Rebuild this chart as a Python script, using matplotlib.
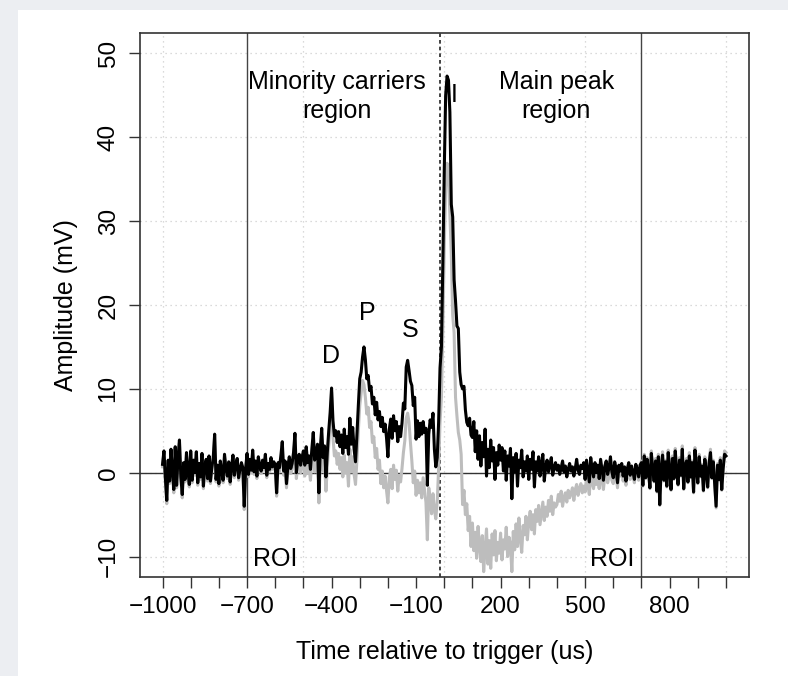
import numpy as np
import matplotlib
matplotlib.use("Agg")
import matplotlib.pyplot as plt
from matplotlib.patches import Rectangle

plt.rcParams["font.family"] = ["Liberation Sans", "DejaVu Sans"]

# Sampling grid of the averaged traces (us)
t_start, t_stop, t_step = -1000, 1000, 5
time_us = np.arange(t_start, t_stop + t_step, t_step)

# Raw averaged response (mV), one row per 100 us
raw_mv = [
    1.0, 2.6, -0.6, -3.3, 1.5, -1.0, 2.8, 0.2, -2.0, 3.1, -1.5, 1.8, 3.9, -0.5, -2.6, 1.2, -0.8, 2.4, 0.3, -1.4,     # -1000
    2.6, -0.9, 1.5, 0.0, 2.5, -1.2, 1.1, -0.5, 2.3, -1.6, 0.8, 1.6, -0.7, 2.0, -1.0, 0.6, 1.8, 4.6, -0.8, 0.9,      # -900
    -1.3, 1.4, 0.2, -0.9, 2.2, 0.5, -0.4, 1.3, -1.1, 0.7, 2.1, -0.3, 0.9, 1.7, -0.6, 0.4, 1.2, 0.6, -4.0, 0.5,      # -800
    2.3, -0.2, 1.6, 0.3, 2.7, 0.1, 1.4, -0.4, 1.9, 0.8, 0.2, 1.5, 0.6, 2.2, -0.3, 1.1, 0.4, 1.8, 0.7, 1.3,         # -700
    0.9, -2.4, 1.2, 0.6, 2.0, 3.7, 0.2, 1.4, -1.3, 0.8, 1.9, 0.5, 1.1, 2.4, 4.7, 0.0, 1.6, 2.2, 0.9, 1.8,          # -600
    2.6, 0.9, 3.1, 1.2, 2.0, 0.4, 2.8, 4.8, 1.5, 2.3, 3.4, -2.4, 2.9, 5.3, 1.8, 3.2, -0.5, 2.5, 5.0, 7.2,          # -500
    10.1, 6.2, 4.4, 5.0, 3.6, 4.9, 3.1, 4.5, 2.3, 5.2, 3.0, 4.3, 2.2, 6.5, 3.4, 5.4, 2.8, 1.3, 4.5, 8.0,          # -400
    11.2, 12.0, 13.8, 15.0, 13.5, 11.2, 11.6, 9.8, 10.3, 8.2, 9.0, 6.9, 8.4, 6.3, 7.3, 5.5, 6.6, 4.9, 5.8, 4.2,   # -300
    1.9, 5.2, 6.4, 4.1, 6.8, 5.0, 6.1, 3.7, 5.5, 4.3, 5.9, 8.3, 7.6, 12.6, 13.4, 12.2, 10.9, 10.4, 8.0, 9.0,      # -200
    4.0, 6.2, 4.3, 5.9, 4.6, 6.1, 4.8, 5.3, -1.5, 4.6, 6.3, 5.4, 7.1, 2.8, 0.7, 1.8, 6.0, 12.5, 15.0, 25.0,       # -100
    36.0, 45.0, 47.3, 46.8, 43.0, 32.0, 30.5, 23.0, 20.5, 17.5, 17.2, 12.0, 10.5, 10.0, 10.3, 7.5, 6.0, 5.6, 6.5, 4.5,  # 0
    4.2, 6.1, 2.5, 5.0, 1.6, 4.4, 0.8, 3.6, 1.9, 5.2, -0.4, 2.8, 0.6, 3.9, 1.4, 3.0, -0.8, 2.4, 0.9, 3.3,         # 100
    1.5, 3.0, 0.2, 2.6, -0.9, 2.0, 0.8, 2.9, -3.1, 1.8, 0.1, 2.3, -1.6, 1.5, 0.6, 2.7, -0.5, 1.3, 0.2, 2.0,       # 200
    -0.8, 1.6, 0.4, 2.5, -1.7, 1.3, 0.2, 1.9, -0.4, 1.0, 2.2, -1.0, 0.7, 1.5, 0.1, 0.9, 1.8, -0.3, 0.6, 1.2,      # 300
    0.3, 0.9, -0.2, 0.6, 1.4, 0.1, 0.8, -0.5, 0.4, 1.1, 0.2, 0.7, -0.4, 0.5, 1.6, 0.3, -0.2, 0.9, 0.5, 1.2,       # 400
    -0.8, 1.5, 0.2, -1.1, 1.8, 0.4, -0.5, 1.2, 0.0, 0.9, -0.7, 1.6, 0.3, -0.9, 0.8, 1.4, -0.2, 0.6, 1.9, 0.1,     # 500
    -0.6, 1.3, 0.5, -1.2, 0.9, 0.2, 1.1, -0.4, 0.7, -1.0, 0.5, 1.2, -0.3, 0.8, 0.1, -0.8, 1.0, 0.4, -0.5, 0.9,    # 600
    1.2, -1.5, 2.0, -0.6, 1.6, 0.2, -1.8, 2.3, 0.5, -1.0, 1.4, -2.2, 1.9, -3.8, 0.6, 2.1, -0.9, 1.3, -1.6, 2.4,   # 700
    0.3, -2.0, 1.7, -0.7, 2.6, 0.1, -1.4, 1.5, -0.3, 2.8, -1.9, 0.9, 1.4, -1.1, 2.0, -0.5, 1.2, -2.3, 2.7, 0.4,   # 800
    -1.2, 1.9, -0.4, 0.8, -2.1, 1.6, 0.2, -1.7, 1.1, 2.4, -0.6, 1.3, -1.3, -4.0, 0.9, -0.8, 1.5, -2.0, 0.5, 2.2,  # 900
    2.0,                                                                                                          # 1000
]

# Same response after removing the slow baseline (mV)
corrected_mv = [
    0.7, 2.3, -0.9, -3.7, 1.2, -1.3, 2.5, -0.1, -2.4, 2.8, -1.8, 1.5, 3.6, -0.8, -3.0, 0.9, -1.1, 2.1, 0.0, -1.7,   # -1000
    2.3, -1.2, 1.2, -0.3, 2.2, -1.5, 0.8, -0.8, 2.0, -1.9, 0.5, 1.3, -1.0, 1.7, -1.3, 0.3, 1.5, 4.3, -1.1, 0.6,    # -900
    -1.6, 1.1, -0.1, -1.2, 1.9, 0.2, -0.7, 1.0, -1.4, 0.4, 1.8, -0.6, 0.6, 1.4, -0.9, 0.1, 0.9, 0.3, -4.4, 0.2,    # -800
    2.0, -0.5, 1.3, 0.0, 2.4, -0.2, 1.1, -0.7, 1.6, 0.5, -0.1, 1.2, 0.3, 1.9, -0.6, 0.8, 0.1, 1.5, 0.4, 1.0,       # -700
    0.5, -2.8, 0.8, 0.1, 1.5, 3.2, -0.3, 0.9, -1.8, 0.2, 1.3, -0.1, 0.4, 1.7, 4.0, -0.7, 0.8, 1.4, 0.0, 0.9,       # -600
    1.4, -0.4, 1.8, -0.1, 0.7, -0.9, 1.4, 3.4, 0.1, 0.8, 1.9, -3.6, 1.3, 3.6, 0.2, 1.5, -2.2, 0.7, 3.3, 5.6,       # -500
    9.6, 4.2, 2.0, 2.6, 1.0, 2.3, 0.4, 1.8, -0.5, 2.1, 0.0, 1.2, -1.6, 2.8, 0.1, 1.9, -0.2, -1.4, 1.5, 5.0,        # -400
    8.0, 9.5, 11.0, 10.5, 9.0, 7.0, 7.8, 5.4, 6.1, 3.6, 4.3, 1.8, 2.9, 0.4, 1.5, -1.3, 0.2, -1.8, -0.4, -2.1,     # -300
    -3.6, -0.6, 0.4, -1.9, 0.9, -0.8, 0.3, -2.2, -0.3, -1.1, 0.5, 2.4, 3.8, 6.5, 7.1, 6.0, 3.6, 1.4, -1.2, 0.2,   # -200
    -2.7, -0.9, -2.4, -1.2, -3.0, -0.6, -2.1, -3.5, -8.0, -1.8, -3.2, -4.9, -2.5, -4.4, -5.5, -3.5, 0.5, 6.0, 9.0, 17.0,  # -100
    27.0, 34.0, 36.9, 35.5, 30.8, 26.1, 18.8, 16.7, 9.0, 6.8, 4.8, 3.9, 2.2, -3.8, -2.1, -5.0, -3.7, -6.9, -5.2, -8.8,   # 0
    -6.0, -9.3, -7.1, -10.2, -6.4, -8.8, -10.6, -7.5, -11.8, -9.0, -6.7, -10.9, -8.1, -11.4, -7.3, -9.8, -6.9, -10.5, -8.3, -9.6,  # 100
    -7.2, -10.4, -8.0, -9.1, -6.5, -10.0, -7.7, -8.6, -11.8, -7.0, -9.2, -6.1, -8.8, -5.4, -7.9, -9.5, -6.3, -7.4, -5.2, -8.0,  # 200
    -5.9, -4.6, -6.8, -5.0, -7.3, -4.4, -5.8, -3.9, -6.2, -4.8, -3.5, -5.7, -4.1, -5.2, -3.3, -4.6, -2.8, -5.0, -3.6, -4.1,  # 300
    -3.8, -2.6, -3.4, -2.2, -4.0, -2.9, -2.4, -3.5, -2.1, -3.0, -2.5, -1.8, -3.3, -2.0, -1.4, -2.7, -1.9, -1.3, -2.4, -1.6,  # 400
    -2.3, -0.6, -1.5, -2.6, 0.2, -1.2, -1.9, -0.2, -1.4, -0.6, -1.9, 0.4, -0.9, -2.0, -0.3, 0.3, -1.2, -0.4, 0.8, -0.9,  # 500
    -1.3, 0.6, -0.2, -1.8, 0.3, -0.4, 0.5, -1.0, 0.2, -1.5, 0.0, 0.7, -0.8, 0.4, -0.3, -1.2, 0.6, 0.0, -0.9, 0.6,  # 600
    1.4, -1.6, 2.2, -0.7, 1.8, 0.3, -1.9, 2.6, 0.6, -1.1, 1.7, -2.3, 2.2, -3.9, 0.8, 2.5, -1.0, 1.5, -1.7, 2.7,   # 700
    0.5, -2.1, 2.0, -0.8, 2.9, 0.2, -1.5, 1.8, -0.4, 3.2, -2.0, 1.1, 1.7, -1.2, 2.4, -0.6, 1.4, -2.4, 3.0, 0.6,   # 800
    -1.3, 2.2, -0.5, 1.0, -2.2, 1.9, 0.3, -1.8, 1.3, 2.8, -0.7, 1.5, -1.4, -4.2, 1.1, -0.9, 1.8, -2.1, 0.7, 2.6,  # 900
    2.4,                                                                                                          # 1000
]

roi_bounds = [-700, 700]
trigger_time = -15

x_ticks = np.arange(-1000, 1001, 100)
x_labels = [-1000, -700, -400, -100, 200, 500, 800]
y_ticks = [-10, 0, 10, 20, 30, 40, 50]

# Peak letters: (label, time, amplitude)
peak_labels = [("D", -403, 13.9), ("P", -272, 19.0), ("S", -122, 17.0), ("I", 36, 45.0)]

fig = plt.figure(figsize=(7.88, 6.76), dpi=100)
fig.patch.set_facecolor("#eceef2")
fig.add_artist(Rectangle((18 / 788, 0), 1, 666 / 676, transform=fig.transFigure,
                         facecolor="white", edgecolor="none", zorder=-10))

ax = fig.add_axes([140 / 788, 1 - 576.7 / 676, 608.5 / 788, 543.4 / 676])
ax.set_xlim(-1080, 1080)
ax.set_ylim(-12.4, 52.4)

# dotted background grid
for gx in [-1000, -500, 0, 500, 1000]:
    ax.axvline(gx, color="#cfcfcf", lw=0.9, ls=(0, (1, 3)), zorder=0)
for gy in y_ticks:
    ax.axhline(gy, color="#cfcfcf", lw=0.9, ls=(0, (1, 3)), zorder=0)

ax.axhline(0, color="#333333", lw=1.0, zorder=1)
for b in roi_bounds:
    ax.axvline(b, color="#444444", lw=1.0, zorder=1)
ax.axvline(trigger_time, color="#222222", lw=1.2, ls=(0, (2.2, 1.8)), zorder=1)

ax.plot(time_us, corrected_mv, color="#bdbdbd", lw=2.2, zorder=2)
ax.plot(time_us, raw_mv, color="black", lw=2.2, zorder=3)

fs = 18
ax.text(-382, 44.85, "Minority carriers\nregion", ha="center", va="center",
        fontsize=fs, linespacing=1.25)
ax.text(398, 44.85, "Main peak\nregion", ha="center", va="center",
        fontsize=fs, linespacing=1.25)
ax.text(-599, -10.3, "ROI", ha="center", va="center", fontsize=fs)
ax.text(597, -10.3, "ROI", ha="center", va="center", fontsize=fs)
for lab, tx, ty in peak_labels:
    ax.text(tx, ty, lab, ha="center", va="center", fontsize=fs)

ax.set_xticks(x_ticks)
ax.set_xticklabels([str(v).replace("-", "\u2212") if v in x_labels else "" for v in x_ticks])
ax.set_yticks(y_ticks)
ax.set_yticklabels([str(v).replace("-", "\u2212") for v in y_ticks])
ax.tick_params(axis="both", direction="out", length=7.7, width=1.0, color="#333333",
               labelsize=17.5)
ax.tick_params(axis="x", pad=6)
ax.tick_params(axis="y", pad=7, labelrotation=90)
for lbl in ax.get_yticklabels():
    lbl.set_va("center")

for sp in ax.spines.values():
    sp.set_color("#333333")
    sp.set_linewidth(1.2)

ax.set_xlabel("Time relative to trigger (us)", fontsize=fs)
ax.set_ylabel("Amplitude (mV)", fontsize=fs)
ax.xaxis.set_label_coords(0.5, -0.116)
ax.yaxis.set_label_coords(-0.102, 0.5)

fig.savefig("out.png", dpi=100)
